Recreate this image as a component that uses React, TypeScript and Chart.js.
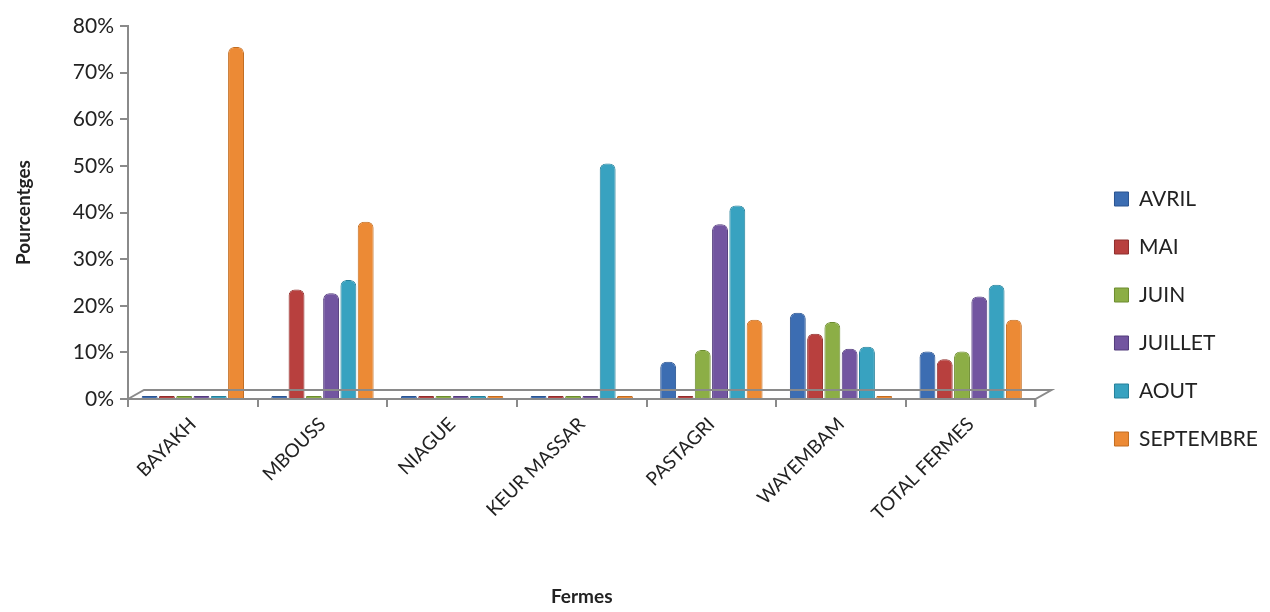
import React, { useEffect, useRef } from "react";
import { Chart, registerables } from "chart.js";

Chart.register(...registerables);

const categories = ["BAYAKH", "MBOUSS", "NIAGUE", "KEUR MASSAR", "PASTAGRI", "WAYEMBAM", "TOTAL FERMES"];
const avril = [0, 0, 0, 0, 8, 18.5, 10.2];
const mai = [0, 23.5, 0, 0, 0, 14, 8.5];
const juin = [0, 0, 0, 0, 10.5, 16.5, 10.2];
const juillet = [0, 22.7, 0, 0, 37.5, 10.8, 22];
const aout = [0, 25.5, 0, 50.5, 41.5, 11.2, 24.5];
const septembre = [75.5, 38, 0, 0, 17, 0, 17];
const seriesNames = ["AVRIL", "MAI", "JUIN", "JUILLET", "AOUT", "SEPTEMBRE"];
const seriesColors = ["#3c6db2", "#b8403e", "#8cae46", "#7255a0", "#38a2c0", "#ec8a35"];
const seriesBorders = ["#2b5490", "#8f2e2c", "#6c8c2e", "#533c7c", "#26809a", "#c26c20"];

const LEGEND_GAP = 52;

const floorPlugin = {
  id: "floor3d",
  afterDatasetsDraw(chart: any) {
    const { ctx, chartArea } = chart;
    const l = chartArea.left, r = chartArea.right, b = chartArea.bottom;
    const d = 16, h = 9;
    ctx.save();
    ctx.strokeStyle = "#8a8a8a";
    ctx.lineWidth = 2;
    ctx.beginPath();
    ctx.moveTo(l, b);
    ctx.lineTo(l + d, b - h);
    ctx.lineTo(r + d, b - h);
    ctx.lineTo(r, b);
    ctx.lineTo(l, b);
    ctx.moveTo(r, b);
    ctx.lineTo(r, b + 8);
    ctx.stroke();
    ctx.restore();
  },
};

const legendGapPlugin = {
  id: "legendGap",
  beforeLayout(chart: any) {
    const leg = chart.legend;
    if (leg && !leg.__patched) {
      const orig = leg.fit.bind(leg);
      leg.fit = function () {
        orig();
        this.width += LEGEND_GAP;
      };
      leg.__patched = true;
    }
  },
  afterLayout(chart: any) {
    const leg = chart.legend;
    if (leg) {
      leg.left += LEGEND_GAP;
    }
  },
};

export default function App() {
  const ref = useRef<HTMLCanvasElement | null>(null);
  useEffect(() => {
    if (!ref.current) return;
    const all = [avril, mai, juin, juillet, aout, septembre];
    const chart = new Chart(ref.current, {
      type: "bar",
      data: {
        labels: categories,
        datasets: all.map((d, i) => ({
          label: seriesNames[i],
          data: d,
          backgroundColor: seriesColors[i],
          borderColor: seriesBorders[i],
          borderWidth: 1,
          borderRadius: { topLeft: 6, topRight: 6, bottomLeft: 0, bottomRight: 0 },
          borderSkipped: "bottom" as const,
          minBarLength: 3,
          categoryPercentage: 0.8,
          barPercentage: 0.92,
        })),
      },
      options: {
        animation: false,
        responsive: true,
        maintainAspectRatio: false,
        layout: { padding: { left: 8, right: 2, top: 26, bottom: 0 } },
        plugins: {
          tooltip: { enabled: false },
          legend: {
            position: "right",
            labels: {
              font: { family: "Lato", size: 21 },
              color: "#222",
              boxWidth: 14,
              boxHeight: 14,
              padding: 27,
            },
          },
        },
        scales: {
          x: {
            afterFit: (s: any) => { s.height = 213; },
            grid: { drawOnChartArea: false, drawTicks: true, tickLength: 8, color: "#8a8a8a", lineWidth: 2 },
            border: { display: true, color: "#8a8a8a", width: 2 },
            ticks: { font: { family: "Lato", size: 19 }, color: "#222", maxRotation: 45, minRotation: 45, padding: 6 },
            title: { display: true, text: "Fermes", font: { family: "Lato", size: 19, weight: "bold" }, color: "#222", padding: { top: 46 } },
          },
          y: {
            min: 0,
            max: 80,
            afterFit: (s: any) => { s.width = 120; },
            grid: { drawOnChartArea: false, drawTicks: true, tickLength: 8, color: "#8a8a8a", lineWidth: 2 },
            border: { display: true, color: "#8a8a8a", width: 2 },
            ticks: { stepSize: 10, font: { family: "Lato", size: 21 }, color: "#222", padding: 6, callback: (v: any) => `${v}%` },
            title: { display: true, text: "Pourcentges", font: { family: "Lato", size: 19, weight: "bold" }, color: "#222", padding: { bottom: 14 } },
          },
        },
      },
      plugins: [floorPlugin, legendGapPlugin],
    });
    return () => chart.destroy();
  }, []);
  return (
    <div style={{ position: "fixed", left: 0, top: 0, width: 1270, height: 612, background: "#fff" }}>
      <canvas ref={ref} />
    </div>
  );
}
